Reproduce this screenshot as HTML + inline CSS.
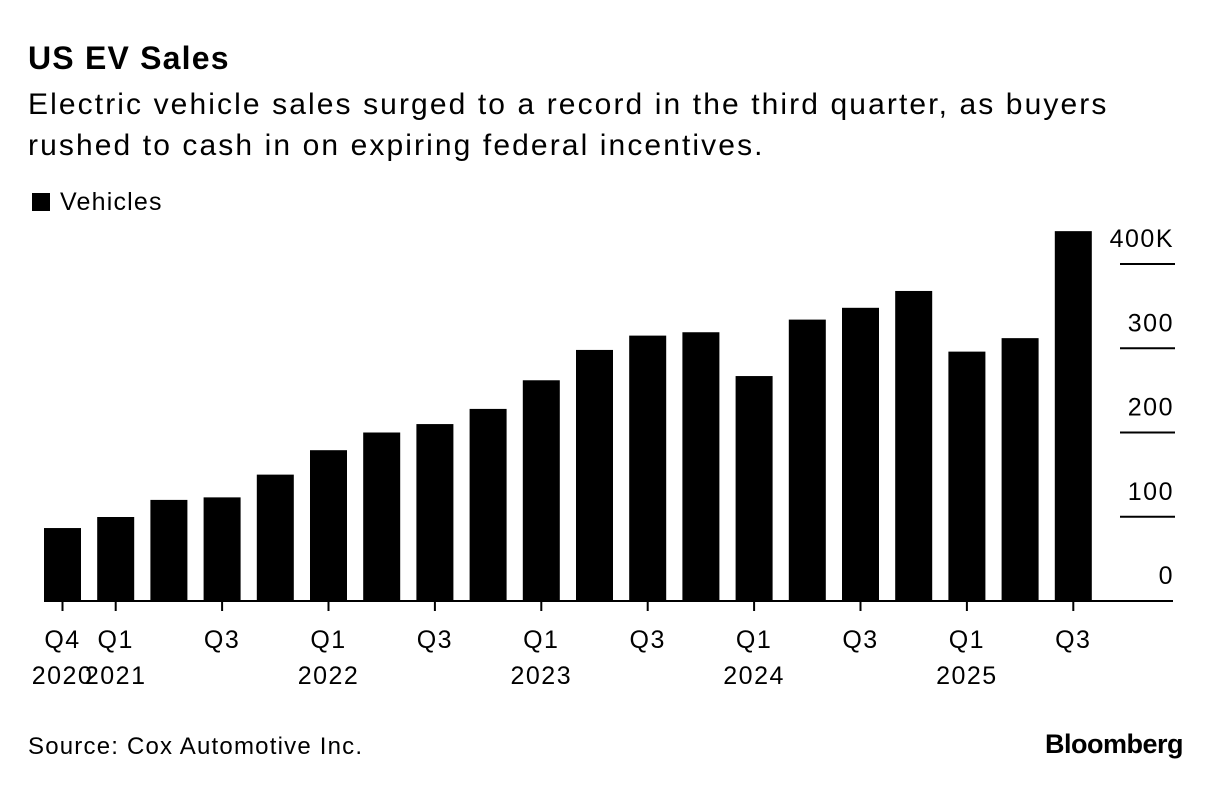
<!DOCTYPE html>
<html><head><meta charset="utf-8"><style>
body{margin:0;background:#fff;font-family:"Liberation Sans",sans-serif;color:#000}
#wrap{position:relative;width:1221px;height:788px;overflow:hidden}
.t{position:absolute;white-space:nowrap}
</style></head><body><div id="wrap">
<div class="t" style="left:28px;top:40px;font-size:32px;font-weight:bold;letter-spacing:1.2px">US EV Sales</div>
<div class="t" style="left:28px;top:84px;font-size:30px;line-height:41px;letter-spacing:2.1px">Electric vehicle sales surged to a record in the third quarter, as buyers<br>rushed to cash in on expiring federal incentives.</div>
<div class="t" style="left:32px;top:188px;font-size:25px;letter-spacing:1.2px"><span style="display:inline-block;width:18px;height:18px;background:#000;margin-right:10px;vertical-align:-1px"></span>Vehicles</div>
<svg id="chart" width="1221" height="788" style="position:absolute;left:0;top:0"></svg>
<div class="t" style="left:28px;top:733px;font-size:24px;letter-spacing:1.2px">Source: Cox Automotive Inc.</div>
<div class="t" style="right:38px;top:729px;font-size:27px;font-weight:bold;letter-spacing:-0.5px">Bloomberg</div>
</div>
<script>
const categories=["Q4 2020","Q1 2021","Q2 2021","Q3 2021","Q4 2021","Q1 2022","Q2 2022","Q3 2022","Q4 2022","Q1 2023","Q2 2023","Q3 2023","Q4 2023","Q1 2024","Q2 2024","Q3 2024","Q4 2024","Q1 2025","Q2 2025","Q3 2025"];
const values=[86.6,99.7,120,123,150,179,200,210,228,262,298,315,319,267,334,348,368,296,312,439];
const yTicks=[0,100,200,300,400];
const yTickLabels=["0","100","200","300","400K"];
const xLabels=[["Q4","2020"],["Q1","2021"],["",""],["Q3",""],["",""],["Q1","2022"],["",""],["Q3",""],["",""],["Q1","2023"],["",""],["Q3",""],["",""],["Q1","2024"],["",""],["Q3",""],["",""],["Q1","2025"],["",""],["Q3",""]];
const svg=document.getElementById('chart');const NS="http://www.w3.org/2000/svg";
const y0=601,pxPer=0.8425,x0=44,step=53.2,bw=37;
const y=v=>y0-v*pxPer;const x=i=>x0+i*step;
function mk(t,a){const e=document.createElementNS(NS,t);for(const k in a)e.setAttribute(k,a[k]);svg.appendChild(e);return e;}
yTicks.forEach((v,i)=>{
 if(v>0){const g=mk('line',{x1:1120,x2:1175,y1:y(v),y2:y(v),stroke:'#000','stroke-width':2});
 
 }
 const t=mk('text',{x:1174,y:y(v)-17,'text-anchor':'end','font-size':25,'letter-spacing':1.5,'font-family':'Liberation Sans'});t.textContent=yTickLabels[i];
 
 
});
values.forEach((v,i)=>{
 const r=mk('rect',{x:x(i),y:y(v),width:bw,height:y0-y(v),fill:'#000'});
 
 
 const cx=x(i)+bw/2;
 if(xLabels[i][0]){
  const tk=mk('line',{x1:cx,x2:cx,y1:y0,y2:y0+10,stroke:'#000','stroke-width':2});
  
  
  xLabels[i].forEach((s,j)=>{if(!s)return;const t=mk('text',{x:cx,y:648+j*36,'text-anchor':'middle','font-size':25,'letter-spacing':1.5,'font-family':'Liberation Sans'});t.textContent=s;
  
  });
 }
});
const ax=mk('line',{x1:44,x2:1173,y1:y0,y2:y0,stroke:'#000','stroke-width':2});


</script></body></html>
